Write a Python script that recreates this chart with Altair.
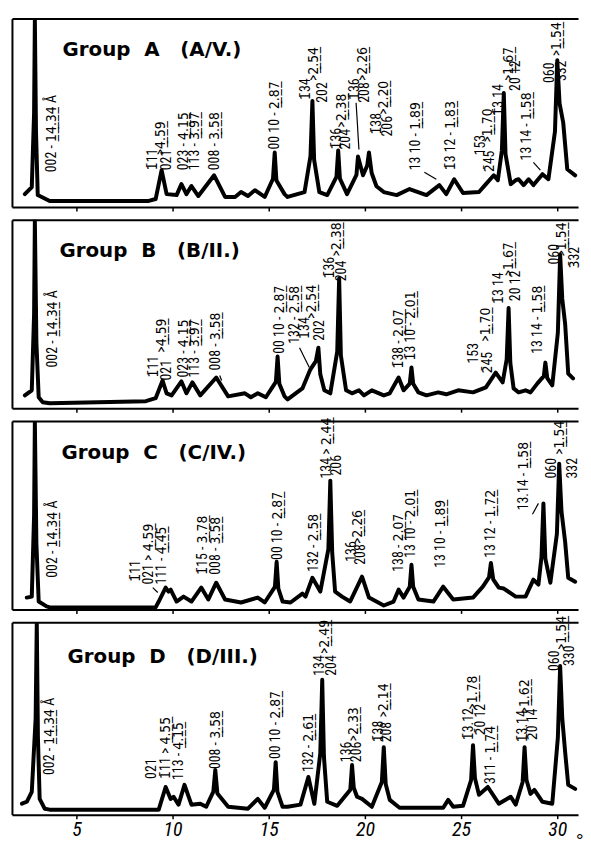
import altair as alt
import pandas as pd

# ---------------- data ----------------
X_DOMAIN = [1.65, 31.08]
tick_values = [5, 10, 15, 20, 25, 30]

# Group A (A/V.)
a_theta = [2.32, 2.68, 2.80, 2.84, 2.90, 2.99, 3.61, 8.76, 9.12, 9.43, 9.69, 10.21, 10.46, 10.72, 10.98, 11.34,
           12.16, 12.73, 13.25, 13.56, 13.92, 14.28, 14.79, 15.22, 15.31, 15.40, 15.82, 15.98, 16.86, 17.17, 17.27,
           17.36, 17.63, 18.04, 18.52, 18.61, 18.70, 19.07, 19.56, 19.64, 19.90, 20.12, 20.21, 20.35, 20.60, 20.98,
           21.65, 22.32, 23.20, 23.87, 24.23, 24.64, 25.10, 25.93, 26.29, 26.70, 26.91, 27.12, 27.22, 27.31, 27.58,
           27.84, 27.99, 28.25, 28.51, 28.76, 29.23, 29.54, 29.88, 30.00, 30.12, 30.31, 30.52, 30.93]
a_int = [6.8, 10.5, 50, 100, 40, 6.3, 3.2, 3.2, 4.2, 19.5, 6.8, 6.3, 12.1, 6.8, 11.1, 5.8,
         16.8, 5.3, 5.3, 7.9, 5.8, 8.9, 5.3, 15, 28.9, 14, 6.8, 5.3, 7.9, 27, 56.3,
         25, 7.9, 6.3, 16, 30, 15, 6.8, 17, 26.8, 16.8, 22, 28.9, 18, 11, 7.9,
         6.3, 9.5, 6.3, 11.6, 6.8, 14.7, 7.4, 7.9, 12.1, 16.8, 14.2, 30, 60.5, 28, 12.1,
         14.2, 14.7, 11.6, 14.7, 11.6, 17.4, 14.7, 40, 77.9, 55, 44.7, 20, 16.8]
a_lbl_text = ["002 - _14.34_ Å", "~111", ">_4.59_", "021", "023 - _4.15_", "113 - _3.97_", "008 - _3.58_",
              "00 10 - _2.87_", "~134", ">_2.54_", "202", "~136", ">_2.38_", "204", "~136", ">_2.26_", "208",
              "~138", ">_2.20_", "206", "13 10 - _1.89_", "~13 12 - _1.83_", "153", ">_1.70_", "~245",
              "~13 14", ">_1.67_", "20 12", "13 14 - _1.58_", "060", ">_1.54_", "332"]
a_lbl_theta = [3.71, 8.97, 9.38, 9.69, 10.62, 11.19, 12.22,
               15.31, 16.96, 17.37, 17.84, 18.56, 18.81, 19.02, 19.48, 19.90, 20.0,
               20.62, 20.98, 21.19, 22.68, 24.48, 26.03, 26.39, 26.49,
               26.96, 27.47, 27.84, 28.45, 29.64, 30.0, 30.26]
a_lbl_int = [18.4, 19.5, 27.4, 19.5, 19.5, 19.5, 19.5,
             30.5, 56.8, 66.8, 55.3, 30.5, 42.1, 30.5, 56.8, 66.8, 55.3,
             38.4, 48.9, 37.4, 19.5, 19.5, 27.4, 34.2, 18.4,
             48.4, 66.8, 61.6, 24.7, 65.8, 80.0, 66.8]
# leader strokes from label to peak (start, end)
a_lead = {"t": [19.54, 28.76, 23.09], "i": [55.3, 23.7, 18.4],
          "t2": [19.69, 29.12, 23.71], "i2": [30.5, 19.5, 14.7]}

# Group B (B/II.)
b_theta = [2.32, 2.68, 2.80, 2.84, 2.92, 3.04, 3.25, 3.61, 8.61, 9.12, 9.48, 9.69, 9.95, 10.46, 10.72, 11.03,
           11.44, 12.27, 12.89, 13.76, 14.07, 14.43, 14.85, 15.37, 15.46, 15.55, 15.82, 15.98, 16.75, 17.16,
           17.45, 17.58, 17.68, 17.89, 18.20, 18.56, 18.66, 18.75, 19.02, 19.33, 19.69, 19.95, 20.36, 20.98,
           21.29, 21.75, 22.01, 22.33, 22.42, 22.51, 22.78, 23.20, 23.81, 24.23, 24.85, 25.62, 26.29, 26.80,
           27.16, 27.37, 27.47, 27.56, 27.73, 27.99, 28.35, 28.61, 28.97, 29.30, 29.38, 29.48, 29.74, 30.03,
           30.15, 30.26, 30.41, 30.57, 30.82]
b_int = [6.8, 9.5, 50, 100, 35, 5.8, 3.2, 2.6, 3.7, 5.3, 14.7, 7.9, 6.8, 14.2, 7.9, 13.7,
         6.8, 16.3, 6.3, 7.9, 5.8, 7.9, 5.8, 14, 27.4, 13, 6.3, 4.7, 10.5, 20.5,
         25, 32.1, 18, 9.5, 7.9, 30, 68.9, 28, 9.5, 7.9, 9.5, 6.8, 9.5, 6.8,
         7.9, 16.3, 9.5, 13, 21.6, 13, 8.4, 6.8, 8.4, 7.4, 9.5, 8.4, 11.1, 18.9,
         13.7, 26, 53.2, 24, 10.5, 8.4, 9.5, 8.4, 13.2, 17, 24.2, 16, 12.1, 40,
         81.6, 58, 44.7, 18.4, 15.8]
b_lbl_text = ["002 - _14.34_ Å", "~111", ">_4.59_", "021", "023 - _4.15_", "113 - _3.97_", "008 - _3.58_",
              "00 10 - _2.87_", "132 - _2.58_", "~134", ">_2.54_", "202", "~136", ">_2.38_", "204",
              "~138 - _2.07_", "~13 10 - _2.01_", "153", ">_1.70_", "~245", "~13 14", ">_1.67_", "20 12",
              "13 14 - _1.58_", "060", ">_1.54_", "~332"]
b_lbl_theta = [3.76, 9.02, 9.43, 9.69, 10.57, 11.19, 12.27,
               15.57, 16.39, 16.91, 17.27, 17.68, 18.20, 18.56, 18.81,
               21.75, 22.42, 25.67, 26.29, 26.39, 26.96, 27.47, 27.84,
               29.02, 29.90, 30.26, 30.93]
b_lbl_int = [21.6, 16.3, 29.5, 14.7, 16.3, 16.3, 20.0,
             28.9, 34.2, 36.8, 47.4, 35.8, 68.9, 80.5, 67.4,
             21.1, 25.3, 23.7, 35.3, 18.4, 55.3, 70.0, 56.8,
             28.9, 76.3, 80.5, 74.2]
b_lead = {"t": [16.60, 12.45], "i": [32.1, 17.4], "t2": [17.11, 12.55], "i2": [21.6, 14.7]}

# Group C (C/IV.)
c_theta = [2.42, 2.68, 2.80, 2.84, 2.92, 3.04, 3.45, 3.61, 9.12, 9.28, 9.64, 9.79, 9.90, 10.21, 10.57, 10.98,
           11.49, 11.86, 12.27, 12.73, 13.56, 14.43, 14.79, 15.32, 15.41, 15.50, 15.72, 16.13, 16.75, 16.91,
           17.27, 17.68, 18.10, 18.20, 18.30, 18.45, 18.81, 19.23, 19.85, 20.21, 20.98, 21.49, 21.75, 22.01,
           22.33, 22.42, 22.51, 22.78, 23.56, 24.07, 24.59, 25.62, 26.13, 26.45, 26.55, 26.67, 26.96, 27.22,
           27.84, 28.35, 28.76, 29.02, 29.18, 29.28, 29.38, 29.64, 29.98, 30.10, 30.22, 30.41, 30.57, 30.93]
c_int = [6.3, 6.8, 50, 100, 35, 4.2, 1.6, 1.1, 1.1, 4.2, 11.6, 9.5, 10.5, 4.2, 6.8, 4.2,
         11.6, 5.3, 14.2, 5.3, 3.7, 6.3, 3.7, 12, 25.3, 11, 4.2, 3.7, 8.4, 6.8,
         16.8, 9.5, 32, 68.4, 30, 9.5, 6.8, 4.2, 17.4, 6.3, 2.1, 4.2, 10.5, 6.3,
         12, 23.7, 12, 5.3, 4.2, 12.1, 5.3, 6.3, 12.1, 17, 24.7, 16, 11.6, 11.1,
         6.8, 6.8, 15.8, 13.2, 28, 56.3, 27, 14.2, 40, 77.4, 52, 35.8, 16.8, 14.7]
c_lbl_text = ["002 - _14.34_ Å", "~111", "021 > _4.59_", "111 - _4.45_", "~115 - _3.78_", "008 - _3.58_",
              "00 10 - _2.87_", "132 - _2.58_", "134 > _2.44_", "206", "136", ">_2.26_", "208",
              "138 - _2.07_", "13 10 - _2.01_", "13 10 - _1.89_", "13 12 - _1.72_", "13.14 - _1.58_",
              "060", ">_1.54_", "332"]
c_lbl_theta = [3.76, 8.09, 8.76, 9.43, 11.60, 12.27,
               15.46, 17.37, 18.04, 18.56, 19.33, 19.64, 19.79,
               21.75, 22.42, 23.97, 26.55, 28.25,
               29.74, 30.15, 30.82]
c_lbl_int = [16.8, 14.7, 13.2, 13.2, 18.4, 18.4,
             26.3, 20.0, 69.5, 71.1, 25.3, 34.7, 23.7,
             20.0, 27.4, 22.1, 27.4, 52.6,
             69.5, 82.1, 69.5]
c_lead = {"t": [28.71, 8.97], "i": [50.5, 11.6], "t2": [29.02, 9.23], "i2": [56.3, 9.0]}

# Group D (D/III.)
d_theta = [2.17, 2.42, 2.68, 2.88, 2.94, 3.00, 3.09, 3.35, 3.61, 9.28, 9.64, 9.90, 10.05, 10.31, 10.62, 10.98,
           11.44, 11.75, 12.12, 12.22, 12.33, 12.89, 13.92, 14.43, 14.79, 15.27, 15.36, 15.45, 15.72, 15.98,
           16.65, 17.06, 17.37, 17.68, 17.78, 17.87, 18.04, 18.56, 19.24, 19.33, 19.42, 19.59, 19.85, 20.36,
           20.88, 20.98, 21.08, 21.29, 21.80, 24.07, 24.33, 24.59, 25.10, 25.52, 25.62, 25.72, 25.93, 26.39,
           26.96, 27.58, 27.84, 28.20, 28.30, 28.40, 28.61, 28.81, 29.23, 29.74, 30.03, 30.15, 30.26, 30.41,
           30.57, 30.93]
d_int = [5.7, 6.7, 11.9, 50, 100, 40, 8.2, 3.1, 2.6, 2.6, 14.4, 8.2, 9.3, 5.2, 15.5, 5.2,
         5.7, 4.1, 12, 23.2, 11, 4.1, 3.1, 8.2, 3.6, 13, 27.3, 12, 4.1, 4.1,
         5.2, 19.6, 5.7, 32, 70.1, 30, 6.7, 4.6, 13, 25.8, 14, 9.3, 8.2, 4.1,
         17, 35.1, 16, 7.7, 3.6, 3.6, 7.7, 4.1, 4.6, 18, 36.1, 19, 10.3, 14.4,
         5.7, 9.3, 5.2, 17, 35.1, 18, 10.8, 12.9, 6.7, 5.7, 40, 77.3, 50, 32.5,
         15.5, 13.4]
d_lbl_text = ["002 - _14.34_ Å", "021", "~111 > _4.55_", "113 - _4.15_", "008 - _3.58_", "00 10 - _2.87_",
              "132 - _2.61_", "134", ">_2.49_", "204", "136", ">_2.33_", "206", "~138", ">_2.14_", "208",
              "~13.12", ">_1.78_", "~20 12", "311 - _1.74_", "~13.14", ">_1.62_", "~20 14",
              "060", ">_1.54_", "330"]
d_lbl_theta = [3.61, 8.92, 9.64, 10.31, 12.27, 15.36,
               17.11, 17.68, 17.94, 18.30, 19.07, 19.43, 19.59, 20.72, 20.98, 21.13,
               25.41, 25.62, 26.03, 26.55, 28.20, 28.35, 28.76,
               29.90, 30.26, 30.67]
d_lbl_int = [20.6, 18.6, 18.6, 18.0, 23.7, 28.9,
             22.2, 72.2, 83.5, 72.2, 27.3, 38.1, 27.3, 37.6, 50.5, 37.6,
             38.7, 54.6, 41.2, 16.0, 37.6, 52.6, 38.7,
             74.7, 85.6, 77.3]
d_lead = {"t": [], "i": [], "t2": [], "i2": []}

titles = ["Group\u00a0\u00a0A\u00a0\u00a0\u00a0(A/V.)", "Group\u00a0\u00a0B\u00a0\u00a0\u00a0(B/II.)",
          "Group\u00a0\u00a0C\u00a0\u00a0\u00a0(C/IV.)", "Group\u00a0\u00a0D\u00a0\u00a0\u00a0(D/III.)"]
title_theta = [4.28, 4.12, 4.23, 4.54]
title_int = [80.0, 80.5, 80.0, 78.9]

# ---------------- helpers ----------------
LABEL_FONT = ("Noto Sans Condensed, Roboto Condensed, Liberation Sans Narrow, DejaVu Sans Condensed, "
              "Liberation Sans, sans-serif")


def fmt(s):
    """'_..._' -> underlined characters, '~x' -> x with an overbar."""
    out, under, i = [], False, 0
    while i < len(s):
        c = s[i]
        if c == "_":
            under = not under
        elif c == "~":
            i += 1
            out.append(s[i] + "\u0304" + ("\u0332" if under else ""))
        else:
            out.append(c + ("\u0332" if under else ""))
        i += 1
    return "".join(out)


def panel(theta, inten, lt, li, ltext, lead, title, tx, ty, h, last):
    curve = pd.DataFrame({"t": theta, "i": inten})
    labels = pd.DataFrame({"t": lt, "i": li, "txt": [fmt(s) for s in ltext]})
    ttl = pd.DataFrame({"t": [tx], "i": [ty], "txt": [title]})
    leads = pd.DataFrame(lead)
    xs = alt.Scale(domain=X_DOMAIN, nice=False, zero=False)
    ys = alt.Scale(domain=[0, 100], nice=False)

    ax_kw = dict(orient="bottom", values=tick_values, domain=True, domainColor="black", domainWidth=2,
                 ticks=True, tickColor="black", tickWidth=1.5, tickSize=4, grid=False, labels=last)
    if last:
        ax_kw.update(labelFont=LABEL_FONT, labelFontStyle="italic", labelFontSize=20, labelPadding=1,
                     labelColor="black", title="°", titleFontSize=19, titleFontWeight="normal",
                     titleColor="black", titleAlign="right", titleBaseline="top", titleX=576, titleY=17)
    else:
        ax_kw.update(title=None)
    bottom_axis = alt.Axis(**ax_kw)
    left_axis = alt.Axis(orient="left", domain=True, domainColor="black", domainWidth=2, ticks=False,
                         labels=False, grid=False, title=None)
    top_axis = alt.Axis(orient="top", domain=True, domainColor="black", domainWidth=2, ticks=False,
                        labels=False, grid=False, title=None)

    line = alt.Chart(curve).mark_line(color="black", strokeWidth=4, strokeJoin="round",
                                      strokeCap="round", clip=True).encode(
        x=alt.X("t:Q", scale=xs, axis=bottom_axis),
        y=alt.Y("i:Q", scale=ys, axis=left_axis),
    )
    txt = alt.Chart(labels).mark_text(angle=270, align="left", baseline="middle", font=LABEL_FONT,
                                      fontSize=14, color="black").encode(
        x=alt.X("t:Q", scale=xs, axis=top_axis),
        y=alt.Y("i:Q", scale=ys, axis=None),
        text="txt:N",
    )
    tt = alt.Chart(ttl).mark_text(align="left", baseline="alphabetic", font="DejaVu Sans",
                                  fontWeight="bold", fontSize=20, color="black").encode(
        x=alt.X("t:Q", scale=xs, axis=None),
        y=alt.Y("i:Q", scale=ys, axis=None),
        text="txt:N",
    )
    layers = [line, txt, tt]
    if len(leads):
        layers.append(alt.Chart(leads).mark_rule(color="black", strokeWidth=1.2).encode(
            x=alt.X("t:Q", scale=xs, axis=None), y=alt.Y("i:Q", scale=ys, axis=None),
            x2="t2:Q", y2="i2:Q"))
    return alt.layer(*layers).resolve_axis(x="independent", y="independent").properties(
        width=571, height=h)


pA = panel(a_theta, a_int, a_lbl_theta, a_lbl_int, a_lbl_text, a_lead, titles[0], title_theta[0], title_int[0], 190, False)
pB = panel(b_theta, b_int, b_lbl_theta, b_lbl_int, b_lbl_text, b_lead, titles[1], title_theta[1], title_int[1], 190, False)
pC = panel(c_theta, c_int, c_lbl_theta, c_lbl_int, c_lbl_text, c_lead, titles[2], title_theta[2], title_int[2], 190, False)
pD = panel(d_theta, d_int, d_lbl_theta, d_lbl_int, d_lbl_text, d_lead, titles[3], title_theta[3], title_int[3], 194, True)

chart = alt.vconcat(pA, pB, pC, pD, spacing=13, bounds="flush").properties(
    padding={"left": 4, "top": 7, "right": 0, "bottom": 0},
    background="white",
).configure_view(stroke=None)

chart.save("out.html", embed_options={"renderer": "svg", "actions": False})
